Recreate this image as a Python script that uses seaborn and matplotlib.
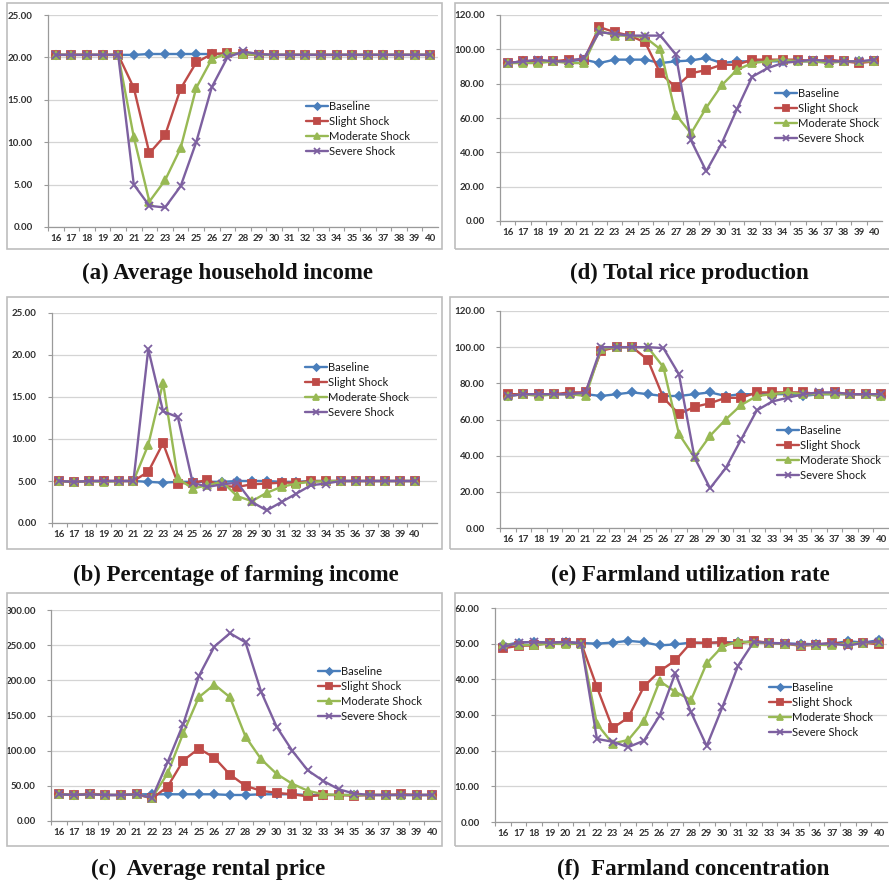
import matplotlib
matplotlib.use("Agg")
import matplotlib.pyplot as plt
from matplotlib.patches import Rectangle
from matplotlib.ticker import FixedLocator, FuncFormatter
import seaborn as sns
import pandas as pd

# ---------------- data ----------------
years = list(range(16, 41))
scenarios = ["Baseline", "Slight Shock", "Moderate Shock", "Severe Shock"]

# (a) Average household income
income_base = [20.3, 20.3, 20.3, 20.3, 20.3, 20.3, 20.4, 20.4, 20.4, 20.4, 20.4, 20.4, 20.4,
               20.3, 20.3, 20.3, 20.3, 20.3, 20.3, 20.3, 20.3, 20.3, 20.3, 20.3, 20.3]
income_slight = [20.3, 20.3, 20.3, 20.3, 20.3, 16.4, 8.7, 10.8, 16.3, 19.4, 20.4, 20.5, 20.4,
                 20.3, 20.3, 20.3, 20.3, 20.3, 20.3, 20.3, 20.3, 20.3, 20.3, 20.3, 20.3]
income_moderate = [20.3, 20.3, 20.3, 20.3, 20.3, 10.6, 3.0, 5.5, 9.3, 16.4, 19.8, 20.5, 20.4,
                   20.3, 20.3, 20.3, 20.3, 20.3, 20.3, 20.3, 20.3, 20.3, 20.3, 20.3, 20.3]
income_severe = [20.3, 20.3, 20.3, 20.3, 20.3, 5.0, 2.5, 2.3, 4.8, 10.0, 16.5, 20.0, 20.7,
                 20.4, 20.3, 20.3, 20.3, 20.3, 20.3, 20.3, 20.3, 20.3, 20.3, 20.3, 20.3]

# (b) Percentage of farming income
share_base = [5.0, 4.9, 5.0, 5.0, 5.0, 5.0, 4.9, 4.8, 4.9, 4.9, 4.9, 4.9, 5.0,
              5.0, 5.0, 4.9, 4.9, 5.0, 5.0, 5.0, 5.0, 5.0, 5.0, 5.0, 5.0]
share_slight = [5.0, 4.9, 5.0, 5.0, 5.0, 5.0, 6.1, 9.5, 4.7, 4.8, 5.1, 4.4, 4.3,
                4.6, 4.7, 4.8, 4.8, 5.0, 5.0, 5.0, 5.0, 5.0, 5.0, 5.0, 5.0]
share_moderate = [5.0, 4.9, 5.0, 4.9, 5.0, 5.0, 9.3, 16.7, 5.3, 4.1, 4.5, 4.9, 3.2,
                  2.6, 3.6, 4.3, 4.7, 4.9, 5.0, 5.0, 5.0, 5.0, 5.0, 5.0, 5.0]
share_severe = [5.0, 4.9, 5.0, 5.0, 5.0, 5.0, 20.7, 13.3, 12.6, 4.8, 4.3, 4.6, 4.8,
                2.5, 1.5, 2.5, 3.5, 4.5, 4.7, 5.0, 5.0, 5.0, 5.0, 5.0, 5.0]

# (c) Average rental price
rent_base = [38, 37, 38, 37, 37, 38, 38, 38, 38, 38, 38, 37, 37,
             38, 38, 38, 37, 37, 37, 37, 37, 37, 37, 37, 37]
rent_slight = [38, 37, 39, 37, 37, 38, 32, 49, 86, 103, 90, 66, 50,
               43, 40, 38, 35, 37, 37, 36, 37, 37, 38, 37, 37]
rent_moderate = [38, 37, 38, 37, 37, 38, 33, 68, 125, 176, 194, 176, 120,
                 88, 67, 53, 43, 38, 37, 37, 37, 37, 37, 37, 37]
rent_severe = [38, 37, 38, 37, 37, 38, 33, 84, 138, 206, 248, 267, 254,
               184, 134, 100, 72, 57, 45, 39, 37, 37, 37, 37, 37]

# (d) Total rice production
rice_base = [92, 93, 93, 93, 93, 94, 92, 94, 94, 94, 92, 93, 93.5,
             95, 92, 93, 93, 93, 93, 93, 93, 93, 93, 93, 93]
rice_slight = [92, 93, 93, 93, 94, 94, 113, 110, 108, 104, 86, 78, 86,
               88, 91, 91, 94, 94, 94, 94, 93, 94, 93, 92, 93]
rice_moderate = [92, 92, 92, 93, 92, 92, 111, 108, 108, 107, 100, 62, 51,
                 66, 79, 88, 92, 93, 94, 93, 93, 92, 93, 93, 93]
rice_severe = [92, 93, 94, 93, 93, 95, 110, 109, 108, 108, 108, 97, 47,
               29, 45, 65, 84, 89, 92, 93, 94, 93, 93, 93, 94]

# (e) Farmland utilization rate
util_base = [73, 74, 74, 74, 74, 74, 73, 74, 75, 74, 73, 73, 74,
             75, 73, 74, 74, 74, 74, 73, 74, 74, 74, 74, 73]
util_slight = [74, 74, 74, 74, 75, 75, 98, 100, 100, 93, 72, 63, 67,
               69, 72, 72, 75, 75, 75, 75, 74, 75, 74, 74, 74]
util_moderate = [73, 74, 73, 74, 74, 73, 99, 100, 100, 100, 89, 52, 39,
                 51, 60, 68, 73, 74, 75, 74, 74, 74, 74, 74, 73]
util_severe = [73, 74, 74, 74, 74, 75, 100, 100, 100, 100, 99.5, 85, 39,
               22, 33, 49, 65, 70, 72, 74, 75, 75, 74, 74, 74]

# (f) Farmland concentration
conc_base = [49.5, 50.3, 50.5, 50.3, 50.5, 50.2, 50.0, 50.3, 50.8, 50.4, 49.5, 49.8, 50.3,
             50.2, 50.4, 50.4, 50.6, 50.2, 50.0, 50.0, 49.8, 50.0, 50.7, 50.3, 51.0]
conc_slight = [48.7, 49.4, 49.5, 50.3, 50.3, 50.1, 37.8, 26.3, 29.3, 38.0, 42.3, 45.3, 50.3,
               50.2, 50.4, 50.0, 50.8, 50.2, 50.0, 49.4, 49.7, 50.2, 50.0, 50.3, 49.8]
conc_moderate = [49.9, 49.6, 49.6, 50.0, 49.9, 50.0, 27.5, 22.0, 23.0, 28.3, 39.5, 36.5, 34.2,
                 44.5, 49.2, 50.6, 50.3, 50.2, 50.0, 49.6, 49.7, 49.6, 50.1, 50.2, 50.5]
conc_severe = [49.0, 50.3, 50.5, 50.2, 50.5, 50.0, 23.3, 22.5, 21.0, 22.8, 29.8, 41.7, 30.8,
               21.3, 32.2, 43.8, 50.5, 50.2, 50.1, 49.7, 49.9, 50.1, 49.4, 50.3, 50.6]

captions = ["(a) Average household income", "(b) Percentage of farming income",
            "(c)  Average rental price", "(d) Total rice production",
            "(e) Farmland utilization rate", "(f)  Farmland concentration"]
y_ticks_a = [0, 5, 10, 15, 20, 25]
y_ticks_b = [0, 5, 10, 15, 20, 25]
y_ticks_c = [0, 50, 100, 150, 200, 250, 300]
y_ticks_d = [0, 20, 40, 60, 80, 100, 120]
y_ticks_e = [0, 20, 40, 60, 80, 100, 120]
y_ticks_f = [0, 10, 20, 30, 40, 50, 60]

# ---------------- style ----------------
sns.set_theme(style="white")
plt.rcParams["font.family"] = ["Lato", "DejaVu Sans"]

W, H = 889, 883
fig = plt.figure(figsize=(W / 100, H / 100), dpi=100)
fig.patch.set_facecolor("white")

palette = {"Baseline": "#4A7EBB", "Slight Shock": "#BE4B48",
           "Moderate Shock": "#98B954", "Severe Shock": "#7D60A0"}
marker_of = {"Baseline": "D", "Slight Shock": "s",
             "Moderate Shock": "^", "Severe Shock": "x"}
msize_of = {"Baseline": 3.8, "Slight Shock": 5.5,
            "Moderate Shock": 5.5, "Severe Shock": 5.5}


def px_axes(left, right, top, bottom):
    return fig.add_axes([left / W, 1 - bottom / H, (right - left) / W, (bottom - top) / H])


def frame_box(x0, y0, x1, y1):
    fig.patches.append(Rectangle((x0 / W, 1 - y1 / H), (x1 - x0) / W, (y1 - y0) / H,
                                 transform=fig.transFigure, fill=False,
                                 edgecolor="#BDBDBD", linewidth=1.2, zorder=0))


def panel(rect, series, yticks, xmax, legend_at, box, caption, cap_xy):
    frame_box(*box)
    ax = px_axes(*rect)
    rows = []
    for name, vals in zip(scenarios, series):
        for yr, v in zip(years, vals):
            rows.append({"year": yr, "value": v, "scenario": name})
    df = pd.DataFrame(rows)
    for name in scenarios:
        sub = df[df["scenario"] == name]
        sns.lineplot(data=sub, x="year", y="value", ax=ax, color=palette[name],
                     marker=marker_of[name], markersize=msize_of[name],
                     markeredgecolor=palette[name], markeredgewidth=1.3,
                     linewidth=1.7, label=name, clip_on=False)
    ax.set_xlim(15.5, xmax)
    ax.set_ylim(yticks[0], yticks[-1])
    ax.set_xlabel("")
    ax.set_ylabel("")
    ax.set_yticks(yticks)
    ax.yaxis.set_major_formatter(FuncFormatter(lambda v, p: f"{v:.2f}"))
    ax.set_xticks(years)
    ax.set_xticklabels([str(y) for y in years])
    bounds = [y + 0.5 for y in range(15, int(xmax))]
    ax.xaxis.set_minor_locator(FixedLocator(bounds))
    ax.tick_params(axis="x", which="major", length=0, pad=5, labelsize=7.0,
                   labelcolor="#303030")
    ax.tick_params(axis="x", which="minor", length=3, width=0.8, color="#9A9A9A",
                   bottom=True, direction="out")
    ax.tick_params(axis="y", which="major", length=3, width=0.8, color="#9A9A9A",
                   left=True, pad=8, labelsize=7.0, labelcolor="#303030")
    for lab in ax.get_xticklabels() + ax.get_yticklabels():
        lab.set_fontweight("bold")
    ax.grid(axis="y", color="#D4D4D4", linewidth=0.9)
    ax.grid(axis="x", visible=False)
    for s in ["top", "right"]:
        ax.spines[s].set_visible(False)
    for s in ["left", "bottom"]:
        ax.spines[s].set_color("#9A9A9A")
        ax.spines[s].set_linewidth(0.9)
    ax.set_facecolor("none")
    lx, ly = legend_at
    leg = ax.legend(loc="upper left", bbox_to_anchor=(lx / W, 1 - ly / H),
                    bbox_transform=fig.transFigure, frameon=False, fontsize=8,
                    handlelength=2.0, handletextpad=0.1, labelspacing=0.35,
                    borderpad=0, borderaxespad=0, markerscale=0.9)
    for t in leg.get_texts():
        t.set_color("#1A1A1A")
    fig.text(cap_xy[0] / W, 1 - cap_xy[1] / H, caption, ha="center", va="center",
             fontsize=16.5, fontweight="bold", family="Liberation Serif", color="#111111")
    return ax


# left column
panel((48, 438, 15, 227), [income_base, income_slight, income_moderate, income_severe],
      y_ticks_a, 40.5, (306, 101), (7, 3, 442, 249), captions[0], (228, 273))
panel((52, 437, 313, 523), [share_base, share_slight, share_moderate, share_severe],
      y_ticks_b, 41.5, (305, 362), (7, 297, 442, 549), captions[1], (236, 575))
panel((51, 440, 610, 821), [rent_base, rent_slight, rent_moderate, rent_severe],
      y_ticks_c, 40.5, (318, 666), (7, 593, 442, 846), captions[2], (208, 869))

# right column
panel((500, 882, 15, 221), [rice_base, rice_slight, rice_moderate, rice_severe],
      y_ticks_d, 40.5, (775, 88), (455, 3, 895, 249), captions[3], (689, 273))
panel((500, 889, 311, 528), [util_base, util_slight, util_moderate, util_severe],
      y_ticks_e, 40.5, (777, 425), (450, 297, 895, 549), captions[4], (690, 575))
panel((495, 887, 608, 822), [conc_base, conc_slight, conc_moderate, conc_severe],
      y_ticks_f, 40.5, (769, 682), (455, 593, 895, 846), captions[5], (693, 869))

fig.savefig("out.png", dpi=100, facecolor="white")
